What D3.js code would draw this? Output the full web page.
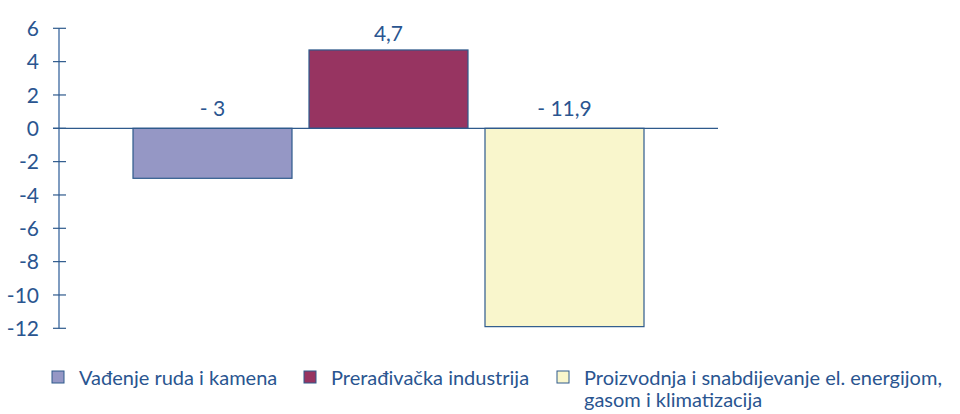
<!DOCTYPE html>
<html>
<head>
<meta charset="utf-8">
<script src="https://cdn.jsdelivr.net/npm/d3@7"></script>
<style>
  body { margin: 0; background: #fff; }
  svg text { font-family: Lato, "Open Sans", sans-serif; fill: #2a5590; }
</style>
</head>
<body>
<script>
var categories = ["Vađenje ruda i kamena", "Prerađivačka industrija", "Proizvodnja i snabdijevanje el. energijom, gasom i klimatizacija"];
var values = [-3, 4.7, -11.9];
var valueLabels = ["- 3", "4,7", "- 11,9"];
var colors = ["#9597c5", "#973461", "#f9f6cc"];
var yTicks = [6, 4, 2, 0, -2, -4, -6, -8, -10, -12];

var width = 960, height = 414;
var stroke = "#2e5a8c";

var svg = d3.select("body").append("svg")
    .attr("width", width)
    .attr("height", height);

var y = d3.scaleLinear()
    .domain([-12, 6])
    .range([328.3, 28.3]);

var x = d3.scaleBand()
    .domain(categories)
    .range([116, 661])
    .padding(0.0966);

var axisX = 59;

// y axis line
svg.append("line")
    .attr("x1", axisX).attr("x2", axisX)
    .attr("y1", y(6)).attr("y2", y(-12))
    .attr("stroke", "#7f9cc0")
    .attr("stroke-width", 2);

// ticks crossing the axis
svg.selectAll(".tick")
  .data(yTicks)
  .enter().append("line")
    .attr("class", "tick")
    .attr("x1", 53).attr("x2", 66)
    .attr("y1", function(d) { return y(d); })
    .attr("y2", function(d) { return y(d); })
    .attr("stroke", stroke)
    .attr("stroke-width", 1.2);

svg.selectAll(".ylab")
  .data(yTicks)
  .enter().append("text")
    .attr("class", "ylab")
    .attr("x", 39)
    .attr("y", function(d) { return y(d); })
    .attr("dy", "0.36em")
    .attr("text-anchor", "end")
    .style("font-size", "21px")
    .text(function(d) { return d; });

// bars
svg.selectAll(".bar")
  .data(values)
  .enter().append("rect")
    .attr("class", "bar")
    .attr("x", function(d, i) { return x(categories[i]); })
    .attr("width", x.bandwidth())
    .attr("y", function(d) { return y(Math.max(0, d)); })
    .attr("height", function(d) { return Math.abs(y(d) - y(0)); })
    .attr("fill", function(d, i) { return colors[i]; })
    .attr("stroke", stroke)
    .attr("stroke-width", 1.2);

// zero line
svg.append("line")
    .attr("x1", 53).attr("x2", 718)
    .attr("y1", y(0)).attr("y2", y(0))
    .attr("stroke", stroke)
    .attr("stroke-width", 1.3);

// value labels
svg.selectAll(".vlab")
  .data(values)
  .enter().append("text")
    .attr("class", "vlab")
    .attr("x", function(d, i) { return x(categories[i]) + x.bandwidth() / 2; })
    .attr("y", function(d) { return d >= 0 ? y(d) - 9 : y(0) - 12; })
    .attr("text-anchor", "middle")
    .style("font-size", "21px")
    .text(function(d, i) { return valueLabels[i]; });

// legend
var legendX = [52, 304, 557];
var legendLines = [["Vađenje ruda i kamena"], ["Prerađivačka industrija"],
                   ["Proizvodnja i snabdijevanje el. energijom,", "gasom i klimatizacija"]];

var lg = svg.selectAll(".leg")
  .data(categories)
  .enter().append("g")
    .attr("class", "leg")
    .attr("transform", function(d, i) { return "translate(" + legendX[i] + ",371)"; });

lg.append("rect")
    .attr("width", 12).attr("height", 12)
    .attr("fill", function(d, i) { return colors[i]; })
    .attr("stroke", stroke)
    .attr("stroke-width", 1);

lg.append("text")
    .attr("x", 27)
    .attr("y", 14)
    .style("font-size", "20px")
    .selectAll("tspan")
    .data(function(d, i) { return legendLines[i]; })
    .enter().append("tspan")
      .attr("x", 27)
      .attr("dy", function(d, j) { return j === 0 ? 0 : 22; })
      .text(function(d) { return d; });
</script>
</body>
</html>
